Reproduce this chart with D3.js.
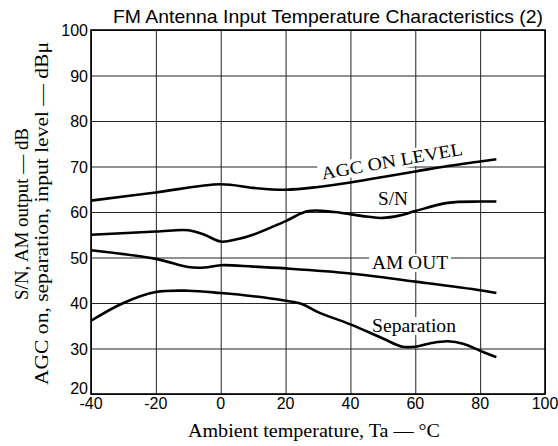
<!DOCTYPE html>
<html>
<head>
<meta charset="utf-8">
<script src="https://cdn.jsdelivr.net/npm/d3@7"></script>
<style>
  body { margin: 0; background: #fff; }
  svg { display: block; }
</style>
</head>
<body>
<div id="container"></div>
<script>
// data
var xTicks = [-40, -20, 0, 20, 40, 60, 80, 100];
var yTicks = [20, 30, 40, 50, 60, 70, 80, 90, 100];

var agcTemps = [-40, -20, 0, 10, 20, 30, 40, 50, 60, 70, 80, 85];
var agcLevel = [62.5, 64.3, 66.1, 65.3, 64.9, 65.5, 66.5, 67.7, 68.9, 70.1, 71.1, 71.6];

var snTemps = [-40, -20, -10, -5, 0, 5, 10, 20, 27, 35, 45, 50, 55, 60, 70, 80, 85];
var snValues = [55, 55.7, 56, 55, 53.5, 54, 55, 58, 60.2, 60, 59, 58.7, 59.2, 60.2, 62, 62.3, 62.3];

var amTemps = [-40, -20, -10, -5, 0, 10, 20, 40, 60, 80, 85];
var amValues = [51.6, 49.7, 47.9, 47.8, 48.3, 48, 47.6, 46.5, 44.7, 42.8, 42.2];

var sepTemps = [-40, -30, -20, -10, 0, 10, 20, 25, 30, 40, 50, 56, 60, 65, 70, 75, 80, 85];
var sepValues = [36.1, 40, 42.4, 42.7, 42.2, 41.5, 40.5, 39.8, 38, 35.3, 32.2, 30.4, 30.4, 31.2, 31.6, 31, 29.5, 28.1];

(function()
{
	var width = 558, height = 446;
	var svg = d3.select("#container").append("svg")
		.attr("width", width)
		.attr("height", height);

	var x = d3.scaleLinear().domain([-40, 100]).range([91, 545]);
	var y = d3.scaleLinear().domain([20, 100]).range([394, 30]);

	var sans = "'Liberation Sans', Arial, sans-serif";
	var serif = "'Liberation Serif', 'Times New Roman', serif";

	// grid
	svg.append("g")
		.attr("transform", "translate(0," + y(20) + ")")
		.call(d3.axisBottom(x).tickValues(xTicks).tickSize(-(y(20) - y(100))).tickFormat(""))
		.call(function(g){ g.select(".domain").remove(); })
		.selectAll("line").attr("stroke", "#222").attr("stroke-width", 1);
	svg.append("g")
		.attr("transform", "translate(" + x(-40) + ",0)")
		.call(d3.axisLeft(y).tickValues(yTicks).tickSize(-(x(100) - x(-40))).tickFormat(""))
		.call(function(g){ g.select(".domain").remove(); })
		.selectAll("line").attr("stroke", "#222").attr("stroke-width", 1);

	// frame
	svg.append("rect")
		.attr("x", x(-40)).attr("y", y(100))
		.attr("width", x(100) - x(-40)).attr("height", y(20) - y(100))
		.attr("fill", "none").attr("stroke", "#000").attr("stroke-width", 1.6);

	// tick labels
	svg.selectAll(".ylab").data(yTicks).enter().append("text")
		.attr("x", x(-40) - 3)
		.attr("y", function(d){ return d === 20 ? y(d) : y(d) + 6; }) // lowest one sits above the corner
		.attr("text-anchor", "end")
		.style("font-family", sans).style("font-size", "16px")
		.text(function(d){ return d; });
	svg.selectAll(".xlab").data(xTicks).enter().append("text")
		.attr("x", function(d){ return x(d); })
		.attr("y", y(20) + 15)
		.attr("text-anchor", "middle")
		.style("font-family", sans).style("font-size", "16px")
		.text(function(d){ return d; });

	// title
	svg.append("text")
		.attr("x", 113).attr("y", 23)
		.attr("textLength", 430).attr("lengthAdjust", "spacingAndGlyphs")
		.style("font-family", sans).style("font-size", "19px")
		.text("FM Antenna Input Temperature Characteristics (2)");

	// axis titles
	svg.append("text")
		.attr("x", 188).attr("y", 437)
		.attr("textLength", 252).attr("lengthAdjust", "spacingAndGlyphs")
		.style("font-family", serif).style("font-size", "18px")
		.text("Ambient temperature, Ta \u2014 \u00B0C");
	svg.append("text")
		.attr("transform", "translate(28,300) rotate(-90)")
		.attr("textLength", 172).attr("lengthAdjust", "spacingAndGlyphs")
		.style("font-family", serif).style("font-size", "18px")
		.text("S/N, AM output \u2014 dB");
	svg.append("text")
		.attr("transform", "translate(48,385) rotate(-90)")
		.attr("textLength", 343).attr("lengthAdjust", "spacingAndGlyphs")
		.style("font-family", serif).style("font-size", "18px")
		.text("AGC on, separation, input level \u2014 dB\u03BC");

	// curve labels with white backing
	function label(txt, cx, cy, len, angle)
	{
		var g = svg.append("g").attr("transform", "translate(" + cx + "," + cy + ") rotate(" + (angle || 0) + ")");
		g.append("rect").attr("x", -len / 2 - 3).attr("y", -15).attr("width", len + 6).attr("height", 18).attr("fill", "#fff");
		g.append("text").attr("x", 0).attr("y", 0)
			.attr("text-anchor", "middle")
			.attr("textLength", len).attr("lengthAdjust", "spacingAndGlyphs")
			.style("font-family", serif).style("font-size", "18px")
			.text(txt);
	}
	label("AGC ON LEVEL", 393, 167, 143, -10);
	label("S/N", 393, 205, 30, 0);
	label("AM OUT", 410, 269, 76, 0);
	label("Separation", 414, 332, 84, 0);

	// curves
	var line = d3.line()
		.x(function(d){ return x(d[0]); })
		.y(function(d){ return y(d[1]); })
		.curve(d3.curveCatmullRom.alpha(0.5));
	var series = [
		d3.zip(agcTemps, agcLevel),
		d3.zip(snTemps, snValues),
		d3.zip(amTemps, amValues),
		d3.zip(sepTemps, sepValues)
	];
	svg.selectAll(".curve").data(series).enter().append("path")
		.attr("class", "curve")
		.attr("d", line)
		.attr("fill", "none")
		.attr("stroke", "#000")
		.attr("stroke-width", 2.6)
		.attr("stroke-linejoin", "round");
})();
</script>
</body>
</html>
